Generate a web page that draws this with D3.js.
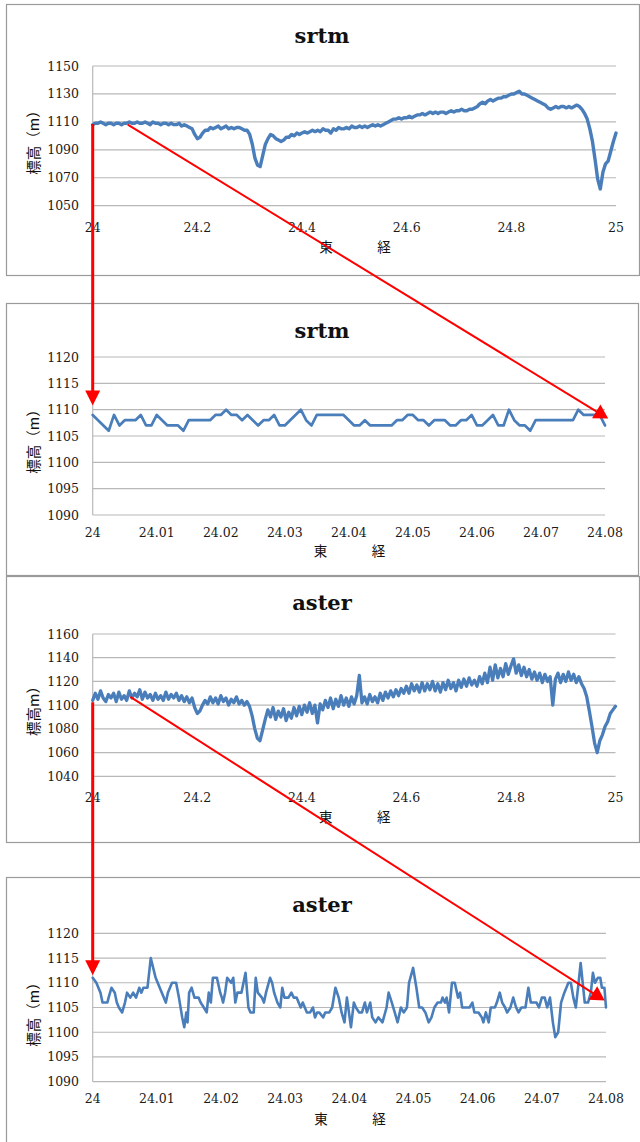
<!DOCTYPE html>
<html><head><meta charset="utf-8">
<script src="https://cdn.jsdelivr.net/npm/d3@7"></script>
<style>body{margin:0;background:#fff}svg{display:block}</style>
</head><body>
<svg id="c" width="640" height="1142"></svg>
<script>
// ---------- DATA ----------
const overviewLon = [
24.000,24.005,24.010,24.015,24.020,24.025,24.030,24.035,24.040,24.045,
24.050,24.055,24.060,24.065,24.070,24.075,24.080,24.085,24.090,24.095,
24.100,24.105,24.110,24.115,24.120,24.125,24.130,24.135,24.140,24.145,
24.150,24.155,24.160,24.165,24.170,24.175,24.180,24.185,24.190,24.195,
24.200,24.205,24.210,24.215,24.220,24.225,24.230,24.235,24.240,24.245,
24.250,24.255,24.260,24.265,24.270,24.275,24.280,24.285,24.290,24.295,
24.300,24.305,24.310,24.315,24.320,24.325,24.330,24.335,24.340,24.345,
24.350,24.355,24.360,24.365,24.370,24.375,24.380,24.385,24.390,24.395,
24.400,24.405,24.410,24.415,24.420,24.425,24.430,24.435,24.440,24.445,
24.450,24.455,24.460,24.465,24.470,24.475,24.480,24.485,24.490,24.495,
24.500,24.505,24.510,24.515,24.520,24.525,24.530,24.535,24.540,24.545,
24.550,24.555,24.560,24.565,24.570,24.575,24.580,24.585,24.590,24.595,
24.600,24.605,24.610,24.615,24.620,24.625,24.630,24.635,24.640,24.645,
24.650,24.655,24.660,24.665,24.670,24.675,24.680,24.685,24.690,24.695,
24.700,24.705,24.710,24.715,24.720,24.725,24.730,24.735,24.740,24.745,
24.750,24.755,24.760,24.765,24.770,24.775,24.780,24.785,24.790,24.795,
24.800,24.805,24.810,24.815,24.820,24.825,24.830,24.835,24.840,24.845,
24.850,24.855,24.860,24.865,24.870,24.875,24.880,24.885,24.890,24.895,
24.900,24.905,24.910,24.915,24.920,24.925,24.930,24.935,24.940,24.945,
24.950,24.955,24.960,24.965,24.970,24.975,24.980,24.985,24.990,24.995,
25.000];
const srtmOverview = [
1108,1109,1109,1110,1109,1108,1109,1109,1108,1109,
1109,1108,1109,1109,1110,1109,1109,1110,1109,1109,
1110,1109,1108,1110,1109,1109,1108,1109,1109,1108,
1109,1108,1108,1109,1107,1108,1107,1106,1105,1101,
1098,1099,1102,1104,1104,1106,1105,1106,1107,1105,
1106,1107,1105,1106,1105,1106,1106,1105,1104,1104,
1101,1094,1084,1079,1078,1086,1094,1098,1101,1100,
1098,1097,1096,1097,1099,1099,1101,1100,1102,1101,
1102,1103,1102,1103,1104,1103,1104,1103,1105,1104,
1104,1102,1105,1104,1106,1105,1105,1106,1105,1107,
1106,1106,1107,1106,1107,1106,1107,1108,1107,1108,
1107,1108,1109,1110,1111,1112,1112,1113,1112,1113,
1113,1114,1113,1114,1115,1115,1116,1115,1116,1117,
1116,1117,1116,1117,1117,1116,1117,1118,1117,1118,
1118,1119,1118,1118,1119,1119,1120,1121,1123,1124,
1123,1125,1126,1125,1126,1127,1127,1128,1128,1129,
1130,1130,1131,1132,1130,1130,1129,1128,1127,1126,
1125,1124,1123,1122,1120,1119,1120,1121,1120,1121,
1121,1120,1121,1120,1121,1122,1121,1119,1116,1112,
1105,1096,1083,1069,1062,1074,1080,1082,1089,1096,
1102];
const asterOverview = [
1104,1110,1105,1112,1106,1103,1109,1106,1110,1103,
1111,1105,1108,1104,1112,1106,1110,1107,1113,1105,
1111,1106,1109,1104,1110,1105,1108,1104,1111,1105,
1109,1106,1110,1104,1108,1103,1107,1102,1106,1098,
1093,1095,1100,1104,1101,1107,1102,1106,1101,1108,
1103,1106,1100,1105,1102,1107,1101,1104,1100,1103,
1099,1091,1080,1072,1070,1079,1088,1096,1090,1098,
1088,1095,1090,1097,1087,1094,1089,1098,1091,1099,
1092,1100,1094,1102,1093,1100,1085,1101,1096,1104,
1098,1106,1097,1105,1099,1108,1100,1106,1099,1107,
1101,1108,1125,1102,1107,1101,1109,1103,1107,1102,
1110,1104,1111,1106,1112,1107,1113,1108,1114,1110,
1116,1110,1118,1112,1117,1111,1119,1112,1118,1113,
1120,1112,1118,1111,1119,1113,1121,1114,1119,1112,
1121,1115,1122,1116,1123,1117,1121,1116,1124,1118,
1127,1119,1132,1121,1134,1123,1131,1124,1135,1126,
1133,1139,1127,1134,1125,1132,1124,1130,1122,1128,
1121,1127,1119,1126,1120,1124,1100,1122,1127,1119,
1126,1120,1128,1121,1126,1119,1124,1118,1114,1107,
1095,1082,1068,1060,1070,1075,1082,1086,1093,1096,
1099];
const srtmDetailLon = [
24,24.00083,24.00167,24.0025,24.00333,24.00417,24.005,24.00583,24.00667,24.0075,
24.00833,24.00917,24.01,24.01083,24.01167,24.0125,24.01333,24.01417,24.015,24.01583,
24.01667,24.0175,24.01833,24.01917,24.02,24.02083,24.02167,24.0225,24.02333,24.02417,
24.025,24.02583,24.02667,24.0275,24.02833,24.02917,24.03,24.03083,24.03167,24.0325,
24.03333,24.03417,24.035,24.03583,24.03667,24.0375,24.03833,24.03917,24.04,24.04083,
24.04167,24.0425,24.04333,24.04417,24.045,24.04583,24.04667,24.0475,24.04833,24.04917,
24.05,24.05083,24.05167,24.0525,24.05333,24.05417,24.055,24.05583,24.05667,24.0575,
24.05833,24.05917,24.06,24.06083,24.06167,24.0625,24.06333,24.06417,24.065,24.06583,
24.06667,24.0675,24.06833,24.06917,24.07,24.07083,24.07167,24.0725,24.07333,24.07417,
24.075,24.07583,24.07667,24.0775,24.07833,24.07917,24.08];
const srtmDetail = [
1109,1108,1107,1106,1109,1107,1108,1108,1108,1109,
1107,1107,1109,1108,1107,1107,1107,1106,1108,1108,
1108,1108,1108,1109,1109,1110,1109,1109,1108,1109,
1108,1107,1108,1108,1109,1107,1107,1108,1109,1110,
1108,1107,1109,1109,1109,1109,1109,1109,1108,1107,
1107,1108,1107,1107,1107,1107,1107,1108,1108,1109,
1109,1108,1108,1107,1108,1108,1108,1107,1107,1108,
1108,1109,1107,1107,1108,1109,1107,1107,1110,1108,
1107,1107,1106,1108,1108,1108,1108,1108,1108,1108,
1108,1110,1109,1109,1109,1109,1107];
const asterDetailLon = [
24.00000,24.00057,24.00121,24.00153,24.00229,24.00248,24.00293,24.00344,24.00376,24.00408,
24.00459,24.00503,24.00535,24.00586,24.00631,24.00675,24.00726,24.00758,24.00790,24.00854,
24.00905,24.00981,24.01045,24.01108,24.01140,24.01172,24.01236,24.01300,24.01344,24.01395,
24.01427,24.01459,24.01478,24.01503,24.01541,24.01586,24.01650,24.01682,24.01732,24.01777,
24.01809,24.01841,24.01873,24.01936,24.01987,24.02013,24.02032,24.02064,24.02096,24.02159,
24.02191,24.02223,24.02255,24.02318,24.02382,24.02427,24.02459,24.02510,24.02541,24.02573,
24.02637,24.02669,24.02701,24.02764,24.02796,24.02828,24.02879,24.02924,24.02955,24.02987,
24.03051,24.03096,24.03134,24.03178,24.03210,24.03242,24.03274,24.03306,24.03338,24.03389,
24.03433,24.03465,24.03497,24.03529,24.03592,24.03624,24.03688,24.03732,24.03783,24.03834,
24.03879,24.03924,24.03962,24.03994,24.04025,24.04070,24.04102,24.04153,24.04197,24.04242,
24.04274,24.04325,24.04357,24.04408,24.04452,24.04516,24.04580,24.04612,24.04662,24.04707,
24.04752,24.04803,24.04847,24.04898,24.04930,24.04994,24.05045,24.05089,24.05134,24.05185,
24.05236,24.05280,24.05325,24.05376,24.05427,24.05452,24.05491,24.05516,24.05554,24.05599,
24.05643,24.05694,24.05726,24.05758,24.05822,24.05873,24.05917,24.05949,24.06013,24.06064,
24.06089,24.06127,24.06172,24.06204,24.06268,24.06299,24.06344,24.06382,24.06427,24.06459,
24.06510,24.06554,24.06599,24.06637,24.06682,24.06745,24.06790,24.06828,24.06873,24.06917,
24.06955,24.07000,24.07045,24.07083,24.07127,24.07172,24.07210,24.07255,24.07300,24.07351,
24.07414,24.07452,24.07491,24.07529,24.07573,24.07605,24.07637,24.07669,24.07720,24.07764,
24.07796,24.07828,24.07873,24.07911,24.07936,24.07975,24.08000];
const asterDetail = [
1111,1110,1108,1106,1106,1107,1109,1108,1106,1105,
1104,1106,1108,1107,1108,1107,1109,1108,1109,1109,
1115,1111,1109,1107,1106,1108,1110,1110,1107,1103,
1101,1104,1102,1108,1109,1107,1107,1106,1105,1104,
1108,1106,1111,1111,1108,1107,1106,1108,1111,1110,
1111,1106,1108,1108,1112,1105,1104,1104,1111,1108,
1107,1106,1108,1111,1110,1108,1106,1105,1109,1107,
1107,1108,1107,1107,1106,1105,1106,1105,1104,1104,
1105,1103,1104,1104,1103,1104,1104,1105,1109,1107,
1104,1102,1107,1104,1101,1106,1105,1104,1104,1106,
1104,1106,1103,1102,1103,1102,1105,1108,1106,1104,
1102,1105,1104,1105,1110,1113,1109,1105,1105,1104,
1102,1103,1105,1106,1106,1107,1106,1107,1104,1110,
1110,1107,1108,1105,1105,1105,1106,1104,1104,1103,
1102,1104,1102,1105,1105,1106,1108,1106,1105,1104,
1105,1107,1105,1104,1105,1105,1109,1106,1106,1106,
1105,1107,1107,1105,1107,1102,1099,1100,1106,1108,
1110,1110,1107,1105,1110,1114,1110,1106,1106,1108,
1112,1110,1111,1111,1109,1109,1105];

const overviewXTicks = [24, 24.2, 24.4, 24.6, 24.8, 25];
const detailXTicks = [24, 24.01, 24.02, 24.03, 24.04, 24.05, 24.06, 24.07, 24.08];
const srtmOverviewYTicks = [1050, 1070, 1090, 1110, 1130, 1150];
const asterOverviewYTicks = [1040, 1060, 1080, 1100, 1120, 1140, 1160];
const detailYTicks = [1090, 1095, 1100, 1105, 1110, 1115, 1120];
const panelTitles = ["srtm", "srtm", "aster", "aster"];
const yAxisTitles = ["標高（m）", "標高（m）", "標高m）", "標高（m）"];
const xAxisTitle = "東　　経";

// ---------- LAYOUT ----------
const svg = d3.select("#c");
const BLUE = "#4a7ebb", GRID = "#b8b8b8", RED = "#ff0000";

const panels = [
  {box:[6,4,633,271], x0:92.7, x1:616, yTickPx:[205.7,66], yBase:1040, lblY:227, xtY:247, titleY:43, ytY:139,
   lon:overviewLon, val:srtmOverview, xTicks:overviewXTicks, yTicks:srtmOverviewYTicks, xDom:[24,25], sw:3.4},
  {box:[6,303,632,272], x0:92.7, x1:605, yTickPx:[515,357], yBase:1090, lblY:532, xtY:551.5, titleY:337.5, ytY:438,
   lon:srtmDetailLon, val:srtmDetail, xTicks:detailXTicks, yTicks:detailYTicks, xDom:[24,24.08], sw:2.7},
  {box:[6,576,633,266], x0:92.7, x1:615.5, yTickPx:[776.3,634], yBase:1030, lblY:797, xtY:817.5, titleY:610, ytY:707.5,
   lon:overviewLon, val:asterOverview, xTicks:overviewXTicks, yTicks:asterOverviewYTicks, xDom:[24,25], sw:3.3},
  {box:[6,877,640,270], x0:92.7, x1:606, yTickPx:[1081.7,933.3], yBase:1090, lblY:1098, xtY:1119.5, titleY:911.5, ytY:1011,
   lon:asterDetailLon, val:asterDetail, xTicks:detailXTicks, yTicks:detailYTicks, xDom:[24,24.08], sw:2.6}
];

const scales = [];
panels.forEach((p, i) => {
  const g = svg.append("g");
  g.append("rect").attr("x", p.box[0]+0.5).attr("y", p.box[1]+0.5)
    .attr("width", p.box[2]).attr("height", p.box[3])
    .attr("fill", "#fff").attr("stroke", "#9a9a9a").attr("stroke-width", 1.2);

  const yt = p.yTicks;
  const x = d3.scaleLinear().domain(p.xDom).range([p.x0, p.x1]);
  const y = d3.scaleLinear().domain([yt[0], yt[yt.length-1]]).range(p.yTickPx);
  scales.push({x, y});

  g.selectAll(".grid").data(yt).join("line")
    .attr("x1", p.x0).attr("x2", p.x1)
    .attr("y1", d => y(d)).attr("y2", d => y(d))
    .attr("stroke", GRID).attr("stroke-width", 1.2);
  g.append("line").attr("x1", p.x0).attr("x2", p.x0)
    .attr("y1", y(yt[yt.length-1])).attr("y2", y(p.yBase))
    .attr("stroke", GRID).attr("stroke-width", 1.2);

  g.selectAll(".yl").data(yt).join("text")
    .attr("x", 79).attr("y", d => y(d)).attr("dy", "0.36em")
    .attr("text-anchor", "end")
    .attr("font-family", "'DejaVu Serif', serif").attr("font-size", 12.5).attr("fill", "#1a1a1a")
    .text(d => d);
  g.selectAll(".xl").data(p.xTicks).join("text")
    .attr("x", d => x(d)).attr("y", p.lblY).attr("dy", "0.36em")
    .attr("text-anchor", "middle")
    .attr("font-family", "'DejaVu Serif', serif").attr("font-size", 12.5).attr("fill", "#1a1a1a")
    .text(d => d);

  g.append("text").attr("x", 322).attr("y", p.titleY).attr("text-anchor", "middle")
    .attr("font-family", "'DejaVu Serif', serif").attr("font-weight", "bold").attr("font-size", 21)
    .attr("fill", "#111").text(panelTitles[i]);
  const cx = (p.x0 + p.x1) / 2;
  g.append("text").attr("x", cx - 35).attr("y", p.xtY).attr("dy", "0.36em")
    .attr("font-family", "'Noto Sans CJK JP', sans-serif").attr("font-size", 13.5)
    .attr("letter-spacing", "5.8px").attr("fill", "#111").text(xAxisTitle);
  g.append("text").attr("transform", `translate(33.5,${p.ytY}) rotate(-90)`)
    .attr("text-anchor", "middle").attr("dy", "0.36em")
    .attr("font-family", "'Noto Sans CJK JP', sans-serif").attr("font-size", 14.5)
    .attr("fill", "#111").text(yAxisTitles[i]);

  const pts = p.lon.map((d, k) => [d, p.val[k]]);
  g.append("path").datum(pts)
    .attr("d", d3.line().x(d => x(d[0])).y(d => y(d[1])))
    .attr("fill", "none").attr("stroke", BLUE).attr("stroke-width", p.sw)
    .attr("stroke-linejoin", "round").attr("stroke-linecap", "round");
});

// ---------- ARROWS (anchored in data space: [panel, lon, value]) ----------
const arrowFrom = [[0, 24, 1108.5], [0, 24.067, 1108], [2, 24, 1102.5], [2, 24.072, 1107]];
const arrowTo   = [[1, 24, 1110.8], [1, 24.0805, 1108.3], [3, 24, 1111.5], [3, 24.0798, 1106.4]];
const arrowStyle = [{w:3, L:15, H:7.5}, {w:2, L:14, H:8}, {w:3, L:15, H:7.5}, {w:2, L:14, H:8}];

const ag = svg.append("g");
arrowFrom.forEach((f, i) => {
  const t = arrowTo[i], s = arrowStyle[i];
  const x1 = scales[f[0]].x(f[1]), y1 = scales[f[0]].y(f[2]);
  const x2 = scales[t[0]].x(t[1]), y2 = scales[t[0]].y(t[2]);
  const dx = x2 - x1, dy = y2 - y1, len = Math.hypot(dx, dy);
  const ux = dx / len, uy = dy / len, nx = -uy, ny = ux;
  const bx = x2 - s.L * ux, by = y2 - s.L * uy;
  ag.append("line").attr("x1", x1).attr("y1", y1).attr("x2", bx + ux).attr("y2", by + uy)
    .attr("stroke", RED).attr("stroke-width", s.w);
  ag.append("polygon")
    .attr("points", [[x2, y2], [bx + s.H * nx, by + s.H * ny], [bx - s.H * nx, by - s.H * ny]].map(p => p.join(",")).join(" "))
    .attr("fill", RED);
});
</script>
</body></html>
